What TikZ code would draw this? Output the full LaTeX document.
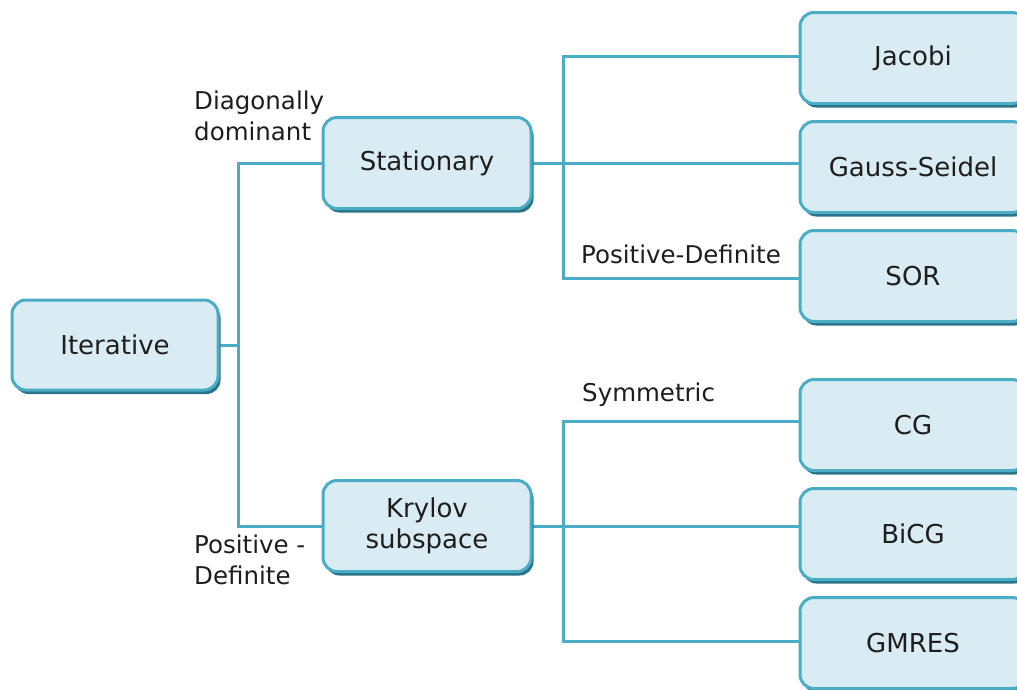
\documentclass[tikz,border=0pt]{standalone}
\usepackage{fontspec}
\setmainfont{DejaVu Sans}
\usetikzlibrary{shadows,calc}
\pgfdeclarelayer{paper}
\pgfdeclarelayer{wires}
\pgfsetlayers{paper,wires,main}
\definecolor{boxfill}{HTML}{DAECF3}
\definecolor{boxline}{HTML}{4BACC6}
\definecolor{boxshade}{HTML}{2A7389}
\definecolor{wire}{HTML}{4BACC6}
\definecolor{ink}{HTML}{1E1E1E}
\tikzset{
  method/.style={draw=boxline, line width=3pt, fill=boxfill, rounded corners=14pt,
    minimum width=#1, align=center, text=ink, font=\fontsize{26}{31}\selectfont,
    general shadow={fill=boxshade, shadow xshift=2.5pt, shadow yshift=-4pt}},
  conn/.style={draw=wire, line width=3pt},
  note/.style={text=ink, font=\fontsize{24.5}{31}\selectfont, align=left, inner sep=0pt}
}
\begin{document}
\begin{tikzpicture}[x=1pt,y=-1pt]
\clip (0,0) rectangle (1017,689);
\begin{pgfonlayer}{paper}
\fill[white] (0,0) rectangle (1017,689);
\end{pgfonlayer}
\node[method=206pt, minimum height=90pt] (iter) at (115,345) {Iterative};
\node[method=208pt, minimum height=91pt] (stat) at (427,163) {Stationary};
\node[method=208pt, minimum height=91pt] (kry) at (427,526) {Krylov\\subspace};
\node[method=226pt, minimum height=91pt] (jac) at (913,58) {Jacobi};
\node[method=226pt, minimum height=91pt] (gs) at (913,167) {Gauss-Seidel};
\node[method=226pt, minimum height=91pt] (sor) at (913,276) {SOR};
\node[method=226pt, minimum height=91pt] (cg) at (913,425) {CG};
\node[method=226pt, minimum height=91pt] (bicg) at (913,534) {BiCG};
\node[method=226pt, minimum height=91pt] (gmres) at (913,643) {GMRES};
% branch points of the tree
\coordinate (ib) at ($(iter.east)+(19,0)$);
\coordinate (sb) at (563,163);
\coordinate (kb) at (563,527);
\begin{pgfonlayer}{wires}
\draw[conn] (iter.east) -- (ib);
\draw[conn] (stat.west) -| (ib) |- (kry.west);
\draw[conn] (stat.east) -- (stat.east -| gs.west);
\draw[conn] (jac.west |- 0,56) -| (sb) |- (sor.west |- 0,278);
\draw[conn] (kry.east) -- (kry.east -| bicg.west);
\draw[conn] (cg.west |- 0,421) -| (kb) |- (gmres.west |- 0,641);
\end{pgfonlayer}
% condition labels
\node[note, anchor=north west] (diag) at (194,91) {Diagonally\\dominant};
\node[note, anchor=north west] (spd) at (581,245) {Positive-Definite};
\node[note, anchor=north west] (sym) at (582,383) {Symmetric};
\node[note, anchor=north west] (kpd) at (194,535) {Positive -\\Definite};
\end{tikzpicture}
\end{document}
